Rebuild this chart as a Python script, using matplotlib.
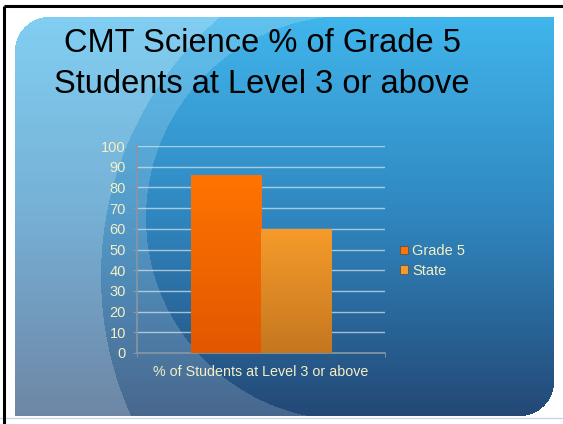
"""CMT Science slide: % of Grade 5 students at Level 3 or above vs State."""
import matplotlib
matplotlib.use("Agg")
import matplotlib.pyplot as plt
import numpy as np
from matplotlib.patches import Patch

plt.rcParams["font.family"] = ["Liberation Sans", "DejaVu Sans"]

# ----------------------------------------------------------------------------
# Data
category = ["% of Students at Level 3 or above"]
series = ["Grade 5", "State"]
values = [86, 60]
yticks = [0, 10, 20, 30, 40, 50, 60, 70, 80, 90, 100]
title = "CMT Science % of Grade 5\nStudents at Level 3 or above"

bar_top = ["#ff7400", "#f69b2b"]
bar_bot = ["#e15800", "#c5771f"]
cream = "#f4efc4"

W, H = 563, 424
fig = plt.figure(figsize=(W / 100, H / 100), dpi=100)
fig.patch.set_facecolor("white")

# ----------------------------------------------------------------------------
# Slide background: vertical blue gradient, lighter swirl on the left,
# rounded top-left and bottom-right corners.
bg = fig.add_axes([0, 0, 1, 1])
bg.set_xlim(0, W)
bg.set_ylim(H, 0)
bg.axis("off")

x0, x1, y0, y1 = 15, 554, 17, 416
yy, xx = np.mgrid[0:H, 0:W] + 0.5
t = np.clip((yy - y0) / (y1 - y0), 0, 1)[..., None]
c_top = np.array([0x40, 0xb6, 0xec]) / 255
c_mid = np.array([0x30, 0x86, 0xbf]) / 255
c_bot = np.array([0x23, 0x48, 0x76]) / 255
rgb = np.where(t < 0.5, c_top + (c_mid - c_top) * (t / 0.5),
               c_mid + (c_bot - c_mid) * ((t - 0.5) / 0.5))

outer = (xx - 442) ** 2 + (yy - 276) ** 2 > 341 ** 2
inner = (xx - 348) ** 2 + (yy - 218) ** 2 > 202 ** 2
light = np.where(outer & (xx < 442), 0.34,
                 np.where(inner & (xx < 348), 0.17, 0.0))[..., None]
rgb = rgb + (1 - rgb) * light

mask = (xx >= x0) & (xx <= x1) & (yy >= y0) & (yy <= y1)
r = 34
tl = (xx < x0 + r) & (yy < y0 + r) & ((xx - x0 - r) ** 2 + (yy - y0 - r) ** 2 > r ** 2)
br = (xx > x1 - r) & (yy > y1 - r) & ((xx - x1 + r) ** 2 + (yy - y1 + r) ** 2 > r ** 2)
mask &= ~tl & ~br
img = np.dstack([rgb, mask.astype(float)])
bg.imshow(img, extent=(0, W, H, 0), interpolation="bilinear", zorder=0)
bg.plot([0, W], [y1 + 1.5, y1 + 1.5], color="#c9d6e6", lw=1, zorder=1)

# black frame lines (top and left edges of the slide frame)
bg.plot([4, W], [6, 6], color="black", lw=2.2, solid_capstyle="butt")
bg.plot([4, 4], [6, H], color="black", lw=2.2, solid_capstyle="butt")

fig.text(262 / W, 1 - 64 / H, title, ha="center", va="center",
         fontsize=23.5, color="black", linespacing=1.42)

# ----------------------------------------------------------------------------
# Clustered column chart
ax = fig.add_axes([137 / W, 1 - 353 / H, 248 / W, 207 / H])
ax.patch.set_alpha(0)
x = np.arange(len(category))
width = 0.284
offsets = (np.arange(len(series)) - (len(series) - 1) / 2) * width
for i, name in enumerate(series):
    b = ax.bar(x + offsets[i], [values[i]], width, color=bar_top[i],
               label=name, zorder=3, linewidth=0)
    # vertical gradient clipped to the bar
    rect = b.patches[0]
    grad = np.linspace(0, 1, 64)[:, None, None]
    ctop = np.array(matplotlib.colors.to_rgb(bar_top[i]))
    cbot = np.array(matplotlib.colors.to_rgb(bar_bot[i]))
    gimg = ctop + (cbot - ctop) * grad
    im = ax.imshow(gimg, extent=(rect.get_x(), rect.get_x() + rect.get_width(),
                                 0, rect.get_height()),
                   aspect="auto", origin="upper", zorder=4)
    im.set_clip_path(rect)

ax.set_xlim(-0.5, 0.5)
ax.set_ylim(0, 100)
ax.set_yticks(yticks)
ax.set_xticks(x)
ax.set_xticklabels(category)
ax.set_xticks([-0.5, 0.5], minor=True)
ax.tick_params(axis="x", which="major", length=0, pad=9, labelcolor=cream,
               labelsize=10.3)
ax.tick_params(axis="x", which="minor", length=3, color="#8a98a6")
ax.tick_params(axis="y", length=3, pad=5, color="#8a98a6", labelcolor=cream,
               labelsize=10.5)
for s in ["top", "right"]:
    ax.spines[s].set_visible(False)
for s in ["left", "bottom"]:
    ax.spines[s].set_color("#8796a4")
    ax.spines[s].set_linewidth(1.2)
ax.grid(axis="y", color="#d8e6ef", alpha=0.7, linewidth=1, zorder=1)
ax.set_axisbelow(True)

handles = [Patch(facecolor=bar_top[i], edgecolor="#555555", linewidth=0.6)
           for i in range(len(series))]
fig.legend(handles, series, loc="center left",
           bbox_to_anchor=(400 / W, 1 - 261 / H), frameon=False,
           fontsize=10.5, labelcolor=cream, handlelength=0.55,
           handleheight=0.55, handletextpad=0.3, labelspacing=0.4,
           borderaxespad=0, borderpad=0)

fig.savefig("out.png", dpi=100)
